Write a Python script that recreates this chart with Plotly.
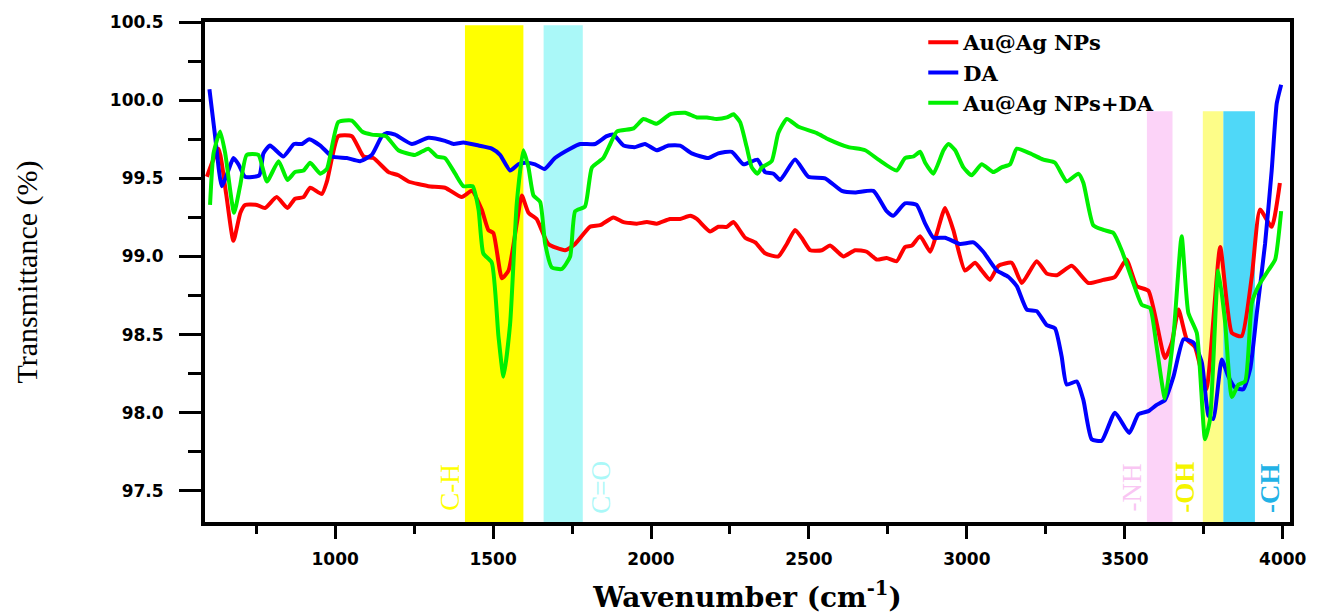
import plotly.graph_objects as go

# ---------------- data ----------------
red_x = [594, 631, 655, 678, 700, 715, 752, 778, 815, 849,
         873, 900, 921, 958, 974, 1010, 1053, 1090, 1121, 1169,
         1200, 1232, 1295, 1348, 1401, 1433, 1464, 1485, 1501, 1528,
         1549, 1575, 1591, 1612, 1638, 1675, 1728, 1760, 1807, 1839,
         1881, 1913, 1955, 1987, 2018, 2060, 2092, 2124, 2145, 2187,
         2213, 2240, 2261, 2298, 2330, 2361, 2403, 2430, 2456, 2477,
         2504, 2541, 2567, 2609, 2646, 2683, 2715, 2746, 2778, 2804,
         2826, 2852, 2884, 2905, 2931, 2957, 2994, 3026, 3047, 3073,
         3100, 3142, 3174, 3221, 3253, 3285, 3332, 3385, 3432, 3469,
         3505, 3538, 3575, 3627, 3649, 3670, 3696, 3722, 3758, 3802,
         3839, 3870, 3902, 3928, 3965, 3991]
red_y = [99.51, 99.69, 99.40, 99.10, 99.28, 99.33, 99.33, 99.31, 99.38, 99.31,
         99.37, 99.38, 99.44, 99.40, 99.48, 99.77, 99.77, 99.64, 99.63, 99.54,
         99.52, 99.48, 99.45, 99.44, 99.38, 99.42, 99.30, 99.17, 99.15, 98.86,
         98.91, 99.21, 99.39, 99.28, 99.24, 99.08, 99.04, 99.08, 99.19, 99.20,
         99.25, 99.22, 99.21, 99.22, 99.21, 99.24, 99.24, 99.26, 99.24, 99.16,
         99.19, 99.19, 99.22, 99.12, 99.09, 99.02, 99.00, 99.08, 99.17, 99.12,
         99.04, 99.04, 99.07, 99.00, 99.04, 99.03, 98.98, 98.99, 98.97, 99.06,
         99.07, 99.13, 99.03, 99.15, 99.31, 99.17, 98.91, 98.96, 98.91, 98.85,
         98.94, 98.96, 98.83, 98.97, 98.89, 98.88, 98.94, 98.83, 98.85, 98.87,
         98.98, 98.81, 98.78, 98.35, 98.45, 98.66, 98.47, 98.42, 98.15, 99.06,
         98.51, 98.49, 98.87, 99.30, 99.19, 99.47]

blue_x = [602, 620, 641, 662, 678, 694, 715, 760, 773, 794,
          836, 870, 895, 918, 953, 990, 1037, 1079, 1116, 1148,
          1164, 1190, 1243, 1295, 1348, 1375, 1406, 1454, 1496, 1522,
          1554, 1580, 1601, 1633, 1663, 1696, 1744, 1776, 1823, 1860,
          1881, 1913, 1950, 1981, 2018, 2055, 2092, 2129, 2182, 2213,
          2256, 2293, 2337, 2361, 2388, 2409, 2456, 2498, 2551, 2604,
          2646, 2704, 2746, 2767, 2804, 2841, 2868, 2894, 2931, 2978,
          3021, 3052, 3095, 3131, 3158, 3190, 3221, 3253, 3279, 3300,
          3316, 3348, 3369, 3395, 3427, 3469, 3514, 3543, 3575, 3601,
          3627, 3654, 3686, 3717, 3744, 3765, 3780, 3807, 3828, 3849,
          3875, 3897, 3918, 3944, 3965, 3981, 3995]
blue_y = [100.07, 99.77, 99.45, 99.55, 99.63, 99.59, 99.51, 99.52, 99.66, 99.71,
          99.64, 99.72, 99.72, 99.75, 99.71, 99.64, 99.63, 99.61, 99.65, 99.77,
          99.79, 99.78, 99.72, 99.76, 99.74, 99.72, 99.73, 99.71, 99.69, 99.65,
          99.55, 99.59, 99.60, 99.59, 99.56, 99.63, 99.69, 99.72, 99.72, 99.77,
          99.78, 99.71, 99.70, 99.72, 99.68, 99.71, 99.71, 99.66, 99.63, 99.66,
          99.67, 99.59, 99.62, 99.54, 99.53, 99.49, 99.62, 99.51, 99.50, 99.42,
          99.41, 99.42, 99.29, 99.26, 99.34, 99.33, 99.21, 99.12, 99.12, 99.08,
          99.09, 99.03, 98.91, 98.87, 98.81, 98.66, 98.65, 98.56, 98.54, 98.36,
          98.18, 98.20, 98.08, 97.83, 97.82, 98.00, 97.87, 97.99, 98.01, 98.05,
          98.08, 98.23, 98.47, 98.45, 98.32, 97.98, 97.96, 98.34, 98.23, 98.16,
          98.15, 98.28, 98.64, 99.08, 99.55, 99.98, 100.10]

green_x = [604, 615, 636, 652, 680, 699, 720, 757, 784, 821,
           849, 873, 900, 921, 953, 974, 1010, 1053, 1085, 1116,
           1161, 1200, 1253, 1295, 1322, 1348, 1380, 1406, 1435, 1454,
           1469, 1496, 1517, 1533, 1554, 1575, 1596, 1612, 1628, 1649,
           1665, 1686, 1718, 1744, 1760, 1791, 1813, 1849, 1871, 1892,
           1945, 1976, 2018, 2060, 2108, 2145, 2177, 2208, 2240, 2261,
           2282, 2303, 2319, 2337, 2351, 2382, 2403, 2430, 2467, 2525,
           2562, 2625, 2678, 2720, 2778, 2804, 2831, 2852, 2868, 2894,
           2926, 2942, 2963, 2989, 3015, 3047, 3084, 3110, 3137, 3158,
           3200, 3242, 3279, 3316, 3353, 3369, 3400, 3432, 3464, 3490,
           3527, 3554, 3580, 3601, 3627, 3654, 3680, 3701, 3728, 3754,
           3770, 3796, 3817, 3839, 3860, 3881, 3902, 3923, 3954, 3976,
           3995]
green_y = [99.33, 99.66, 99.80, 99.66, 99.28, 99.45, 99.65, 99.65, 99.48, 99.61,
           99.49, 99.54, 99.55, 99.60, 99.53, 99.56, 99.86, 99.87, 99.80, 99.78,
           99.77, 99.68, 99.65, 99.69, 99.64, 99.63, 99.53, 99.45, 99.45, 99.30,
           99.02, 98.96, 98.49, 98.23, 98.57, 99.34, 99.68, 99.57, 99.39, 99.35,
           99.08, 98.93, 98.92, 99.00, 99.29, 99.32, 99.57, 99.63, 99.72, 99.80,
           99.82, 99.88, 99.85, 99.91, 99.92, 99.89, 99.89, 99.88, 99.89, 99.91,
           99.86, 99.70, 99.57, 99.53, 99.57, 99.61, 99.79, 99.88, 99.83, 99.79,
           99.75, 99.70, 99.68, 99.62, 99.55, 99.63, 99.64, 99.67, 99.60, 99.53,
           99.68, 99.72, 99.68, 99.57, 99.52, 99.59, 99.54, 99.57, 99.59, 99.69,
           99.66, 99.62, 99.60, 99.48, 99.53, 99.47, 99.20, 99.17, 99.15, 99.04,
           98.83, 98.69, 98.67, 98.42, 98.09, 98.49, 99.13, 98.64, 98.51, 97.83,
           97.96, 98.91, 98.59, 98.10, 98.18, 98.20, 98.70, 98.81, 98.91, 98.98,
           99.29]

series_names = ["Au@Ag NPs", "DA", "Au@Ag NPs+DA"]
series_colors = ["#ff0000", "#0000ff", "#00f000"]

# highlighted bands: label, x0, x1, top value, fill colour, label colour
band_labels = ["C-H", "C=O", "-NH", "-OH", "-CH"]
band_x0 = [1411, 1660, 3570, 3747, 3812]
band_x1 = [1596, 1784, 3651, 3812, 3912]
band_top = [100.48, 100.48, 99.93, 99.93, 99.93]
band_fill = ["#ffff00", "#aaf8f8", "#fcd3f8", "#fdfd88", "#4fd8f8"]
label_x = [1364, 1839, 3522, 3691, 3958]
label_colors = ["#ffff00", "#aaf8f8", "#f9c6f3", "#f5f500", "#22b2e6"]
label_bold = [False, False, False, True, True]

y_ticks = [97.5, 98.0, 98.5, 99.0, 99.5, 100.0, 100.5]
x_ticks = [1000, 1500, 2000, 2500, 3000, 3500, 4000]

fig = go.Figure()

for xs, ys, name, col in zip([red_x, blue_x, green_x], [red_y, blue_y, green_y],
                             series_names, series_colors):
    fig.add_trace(go.Scatter(x=xs, y=ys, name=name, mode="lines",
                             line=dict(color=col, width=4, shape="spline",
                                       smoothing=0.5)))

for x0, x1, top, fc in zip(band_x0, band_x1, band_top, band_fill):
    fig.add_shape(type="rect", xref="x", yref="y", x0=x0, x1=x1, y0=97.3, y1=top,
                  fillcolor=fc, line=dict(width=0), layer="below")

for lab, lx, lc, lb in zip(band_labels, label_x, label_colors, label_bold):
    fig.add_annotation(x=lx, y=97.52, xref="x", yref="y", text=lab, showarrow=False,
                       textangle=-90,
                       font=dict(family="Liberation Serif", size=27, color=lc,
                                 weight="bold" if lb else "normal"))

fig.update_xaxes(range=[588, 4023], tickvals=x_ticks, ticks="outside", ticklen=13,
                 tickwidth=3, tickcolor="black", showline=True, linewidth=4,
                 linecolor="black", mirror=True, showgrid=False, zeroline=False,
                 minor=dict(dtick=250, tick0=0, ticks="outside", ticklen=8,
                            tickwidth=3, tickcolor="black", showgrid=False),
                 tickfont=dict(family="DejaVu Sans", size=17, color="black", weight="bold"),
                 ticklabelstandoff=6,
                 title=dict(text="Wavenumber (cm<sup>-1</sup>)", standoff=20,
                            font=dict(family="DejaVu Serif", size=28, color="black",
                                      weight="bold")))

fig.update_yaxes(range=[97.3, 100.501], tickvals=y_ticks, tickformat=".1f",
                 ticks="outside", ticklen=22, tickwidth=3, tickcolor="black",
                 showline=True, linewidth=4, linecolor="black", mirror=True,
                 showgrid=False, zeroline=False,
                 minor=dict(dtick=0.25, tick0=97.5, ticks="outside", ticklen=13,
                            tickwidth=3, tickcolor="black", showgrid=False),
                 tickfont=dict(family="DejaVu Sans", size=17, color="black", weight="bold"),
                 ticklabelstandoff=12,
                 title=dict(text="Transmittance (%)", standoff=64,
                            font=dict(family="Liberation Serif", size=30, color="black")))

# the page body has an 8 px margin, so the figure is 8 px smaller than the window
fig.update_layout(
    width=1309, height=608,
    margin=dict(l=197, r=27, t=14, b=94, autoexpand=False),
    plot_bgcolor="white", paper_bgcolor="white",
    showlegend=True,
    legend=dict(x=0.662, y=1.0, xanchor="left", yanchor="top",
                bgcolor="rgba(0,0,0,0)", borderwidth=0,
                font=dict(family="DejaVu Serif", size=21, color="black", weight="bold"),
                tracegroupgap=0),
)

fig.write_html("out.html")
